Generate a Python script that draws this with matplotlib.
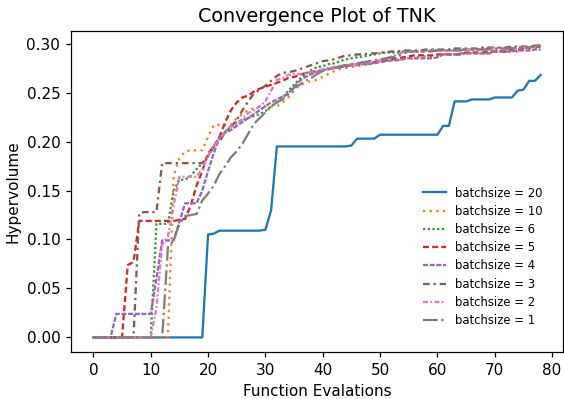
import numpy as np
import matplotlib
matplotlib.use("Agg")
import matplotlib.pyplot as plt

# function evaluations 0..78
evals = np.arange(79)

hv_b20 = [0.0] * 20 + [
    0.105, 0.106, 0.109, 0.109, 0.109, 0.109, 0.109, 0.109, 0.109, 0.109,  # 20-29
    0.110, 0.130, 0.195, 0.195, 0.195, 0.195, 0.195, 0.195, 0.195, 0.195,  # 30-39
    0.195, 0.195, 0.195, 0.195, 0.195, 0.196, 0.203, 0.203, 0.203, 0.203,  # 40-49
    0.207, 0.207, 0.207, 0.207, 0.207, 0.207, 0.207, 0.207, 0.207, 0.207,  # 50-59
    0.207, 0.216, 0.216, 0.241, 0.241, 0.241, 0.243, 0.243, 0.243, 0.243,  # 60-69
    0.245, 0.245, 0.245, 0.245, 0.252, 0.253, 0.262, 0.262, 0.268]         # 70-78

hv_b10 = [0.0] * 14 + [
    0.165, 0.183, 0.190, 0.191, 0.191, 0.191,                              # 14-19
    0.205, 0.217, 0.217, 0.217, 0.217, 0.224, 0.228, 0.232, 0.234, 0.236,  # 20-29
    0.236, 0.236, 0.236, 0.240, 0.245, 0.252, 0.258, 0.260, 0.262, 0.263,  # 30-39
    0.266, 0.269, 0.272, 0.274, 0.275, 0.276, 0.277, 0.278, 0.279, 0.281,  # 40-49
    0.282, 0.283, 0.283, 0.283, 0.285, 0.285, 0.285, 0.287, 0.287, 0.287,  # 50-59
    0.287, 0.289, 0.289, 0.289, 0.289, 0.290, 0.290, 0.290, 0.290, 0.290,  # 60-69
    0.292, 0.292, 0.292, 0.292, 0.292, 0.295, 0.295, 0.295, 0.295]         # 70-78

hv_b6 = [0.0] * 11 + [
    0.116, 0.116, 0.116, 0.150, 0.161, 0.161, 0.165, 0.172, 0.178,        # 11-19
    0.185, 0.195, 0.203, 0.210, 0.215, 0.220, 0.222, 0.224, 0.226, 0.228,  # 20-29
    0.231, 0.236, 0.240, 0.244, 0.252, 0.258, 0.264, 0.269, 0.273, 0.276,  # 30-39
    0.277, 0.279, 0.280, 0.282, 0.284, 0.285, 0.286, 0.287, 0.288, 0.289,  # 40-49
    0.290, 0.291, 0.291, 0.291, 0.292, 0.292, 0.292, 0.292, 0.293, 0.293,  # 50-59
    0.293, 0.293, 0.293, 0.294, 0.294, 0.294, 0.294, 0.294, 0.295, 0.295,  # 60-69
    0.295, 0.295, 0.295, 0.296, 0.296, 0.296, 0.296, 0.297, 0.297]         # 70-78

hv_b5 = [0.0] * 6 + [
    0.074, 0.077, 0.119, 0.119,                                            # 6-9
    0.119, 0.119, 0.119, 0.119, 0.119, 0.120, 0.121, 0.135, 0.155, 0.170,  # 10-19
    0.188, 0.195, 0.205, 0.220, 0.232, 0.240, 0.245, 0.247, 0.251, 0.254,  # 20-29
    0.256, 0.258, 0.260, 0.262, 0.265, 0.266, 0.268, 0.270, 0.271, 0.272,  # 30-39
    0.273, 0.274, 0.275, 0.276, 0.277, 0.278, 0.279, 0.280, 0.280, 0.281,  # 40-49
    0.282, 0.283, 0.284, 0.285, 0.286, 0.287, 0.288, 0.288, 0.288, 0.288,  # 50-59
    0.289, 0.289, 0.289, 0.289, 0.289, 0.291, 0.291, 0.291, 0.291, 0.292,  # 60-69
    0.292, 0.292, 0.292, 0.294, 0.294, 0.294, 0.296, 0.297, 0.297]         # 70-78

hv_b4 = [0.0] * 4 + [
    0.024, 0.024, 0.024, 0.024, 0.024, 0.024,                              # 4-9
    0.024, 0.060, 0.099, 0.099, 0.099, 0.118, 0.137, 0.137, 0.137, 0.150,  # 10-19
    0.170, 0.188, 0.205, 0.209, 0.212, 0.216, 0.220, 0.224, 0.228, 0.232,  # 20-29
    0.236, 0.240, 0.243, 0.246, 0.249, 0.256, 0.262, 0.266, 0.269, 0.271,  # 30-39
    0.273, 0.274, 0.275, 0.276, 0.277, 0.278, 0.278, 0.279, 0.279, 0.280,  # 40-49
    0.281, 0.282, 0.283, 0.283, 0.284, 0.285, 0.285, 0.285, 0.285, 0.285,  # 50-59
    0.286, 0.289, 0.289, 0.289, 0.290, 0.290, 0.290, 0.290, 0.290, 0.290,  # 60-69
    0.292, 0.292, 0.292, 0.292, 0.293, 0.293, 0.293, 0.294, 0.294]         # 70-78

hv_b3 = [0.0] * 8 + [
    0.127, 0.128,                                                          # 8-9
    0.128, 0.128, 0.178, 0.178, 0.178, 0.178, 0.178, 0.178, 0.178, 0.178,  # 10-19
    0.185, 0.195, 0.200, 0.210, 0.215, 0.222, 0.232, 0.241, 0.249, 0.253,  # 20-29
    0.257, 0.262, 0.267, 0.270, 0.271, 0.272, 0.274, 0.276, 0.278, 0.280,  # 30-39
    0.282, 0.283, 0.284, 0.286, 0.288, 0.288, 0.289, 0.289, 0.290, 0.290,  # 40-49
    0.291, 0.291, 0.292, 0.292, 0.293, 0.293, 0.293, 0.293, 0.294, 0.294,  # 50-59
    0.294, 0.294, 0.294, 0.295, 0.295, 0.295, 0.295, 0.295, 0.296, 0.296,  # 60-69
    0.296, 0.296, 0.296, 0.297, 0.297, 0.297, 0.297, 0.298, 0.298]         # 70-78

hv_b2 = [0.0] * 11 + [
    0.030, 0.095, 0.103, 0.135, 0.164, 0.164, 0.164, 0.164, 0.172,        # 11-19
    0.186, 0.195, 0.202, 0.211, 0.216, 0.218, 0.223, 0.229, 0.232, 0.236,  # 20-29
    0.241, 0.252, 0.263, 0.265, 0.268, 0.269, 0.269, 0.270, 0.271, 0.272,  # 30-39
    0.274, 0.275, 0.276, 0.277, 0.278, 0.279, 0.279, 0.280, 0.281, 0.282,  # 40-49
    0.283, 0.285, 0.287, 0.289, 0.291, 0.292, 0.292, 0.292, 0.292, 0.293,  # 50-59
    0.293, 0.293, 0.293, 0.293, 0.294, 0.294, 0.294, 0.294, 0.294, 0.295,  # 60-69
    0.295, 0.295, 0.295, 0.295, 0.296, 0.296, 0.296, 0.298, 0.298]         # 70-78

hv_b1 = [0.0] * 13 + [
    0.092, 0.099, 0.116, 0.124, 0.125, 0.126, 0.140,                      # 13-19
    0.147, 0.155, 0.167, 0.175, 0.184, 0.190, 0.198, 0.208, 0.218, 0.224,  # 20-29
    0.230, 0.236, 0.240, 0.243, 0.248, 0.255, 0.258, 0.262, 0.265, 0.269,  # 30-39
    0.272, 0.274, 0.275, 0.277, 0.278, 0.279, 0.280, 0.281, 0.282, 0.283,  # 40-49
    0.284, 0.285, 0.286, 0.287, 0.290, 0.292, 0.292, 0.292, 0.292, 0.292,  # 50-59
    0.293, 0.293, 0.293, 0.293, 0.293, 0.294, 0.294, 0.294, 0.294, 0.294,  # 60-69
    0.295, 0.295, 0.295, 0.295, 0.296, 0.296, 0.296, 0.298, 0.298]         # 70-78

labels = ["batchsize = 20", "batchsize = 10", "batchsize = 6", "batchsize = 5",
          "batchsize = 4", "batchsize = 3", "batchsize = 2", "batchsize = 1"]
series = [hv_b20, hv_b10, hv_b6, hv_b5, hv_b4, hv_b3, hv_b2, hv_b1]
styles = ['-', (0, (1, 1.9)), (0, (1, 1.05)), (0, (2.6, 1.4)), (0, (2.2, 0.7)),
          (0, (2.9, 1.7, 1, 1.7)), (0, (2.2, 1.0, 0.8, 1.0)), '-.']

DPI = 110
fig = plt.figure(figsize=(564 / DPI, 399 / DPI), dpi=DPI)
ax = fig.add_axes([71 / 564, 47 / 399, 492 / 564, 321 / 399])

for i, (vals, lab, ls) in enumerate(zip(series, labels, styles)):
    ax.plot(evals, vals, linestyle=ls, color=f"C{i}", linewidth=1.5, label=lab)

ax.set_title("Convergence Plot of TNK", fontsize=12.5)
ax.set_xlabel("Function Evalations", fontsize=10)
ax.set_ylabel("Hypervolume", fontsize=10)
ax.set_xticks(np.arange(0, 81, 10))
ax.legend(loc="lower right", bbox_to_anchor=(0.98, 0.045), frameon=False,
          fontsize=7.6, labelspacing=0.45)

fig.savefig("out.png", dpi=DPI)
